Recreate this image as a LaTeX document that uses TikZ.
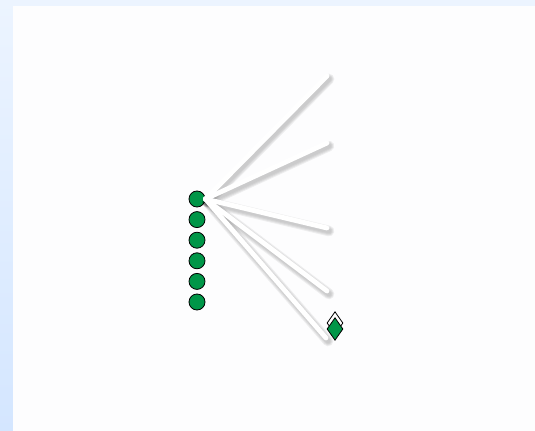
\documentclass[tikz,border=0pt]{standalone}
\usepackage{tikz}
\usetikzlibrary{shapes.geometric,positioning,calc}
\definecolor{bgblue}{RGB}{236,244,255}
\definecolor{bgbluedark}{RGB}{212,230,255}
\definecolor{panelwhite}{RGB}{253,253,254}
\definecolor{nodegreen}{RGB}{0,150,72}

\begin{document}
\begin{tikzpicture}[
    x=0.75pt, y=-0.75pt,
    dot/.style={circle, draw=black, line width=0.6pt, fill=nodegreen, minimum size=12pt, inner sep=0pt},
    goal/.style={diamond, draw=black, line width=0.6pt, fill=nodegreen, minimum width=12pt, minimum height=17pt, inner sep=0pt, aspect=0.7},
    goalback/.style={diamond, draw=black, line width=0.6pt, fill=white, minimum width=12pt, minimum height=17pt, inner sep=0pt, aspect=0.7},
    ray/.style={white, line width=3.6pt, line cap=round},
    rayshade/.style={black, line cap=round}
]
% Background and panel
\useasboundingbox (0,0) rectangle (535,431);
\shade[top color=bgblue, bottom color=bgbluedark] (0,0) rectangle (13,431);
\fill[bgblue] (13,0) rectangle (535,6);
\fill[panelwhite] (13,6) rectangle (535,431);

% Column of circles
\foreach \i in {0,...,5} {
    \node[dot] (c\i) at (197, 199+\i*20.6) {};
}

% Ray end points
\coordinate (r1) at (327,76);
\coordinate (r2) at (327,143);
\coordinate (r3) at (327,228);
\coordinate (r4) at (327,291);
\coordinate (r5) at (326,338);

% Shadows of the rays
\foreach \k/\o in {1/0.04,2/0.05,3/0.06,4/0.06} {
    \foreach \r in {r1,r2,r3,r4,r5} {
        \draw[rayshade, opacity=\o, line width=2pt+\k*1.5pt] ($(c0.east)+(2,3)$) -- ($(\r)+(2,3)$);
    }
}

% Rays
\foreach \r in {r1,r2,r3,r4,r5} {
    \draw[ray] (c0.east) -- (\r);
}

% Goal
\node[goalback] (g0) at (335,323) {};
\node[goal] (g1) at (335,329) {};
\end{tikzpicture}
\end{document}
